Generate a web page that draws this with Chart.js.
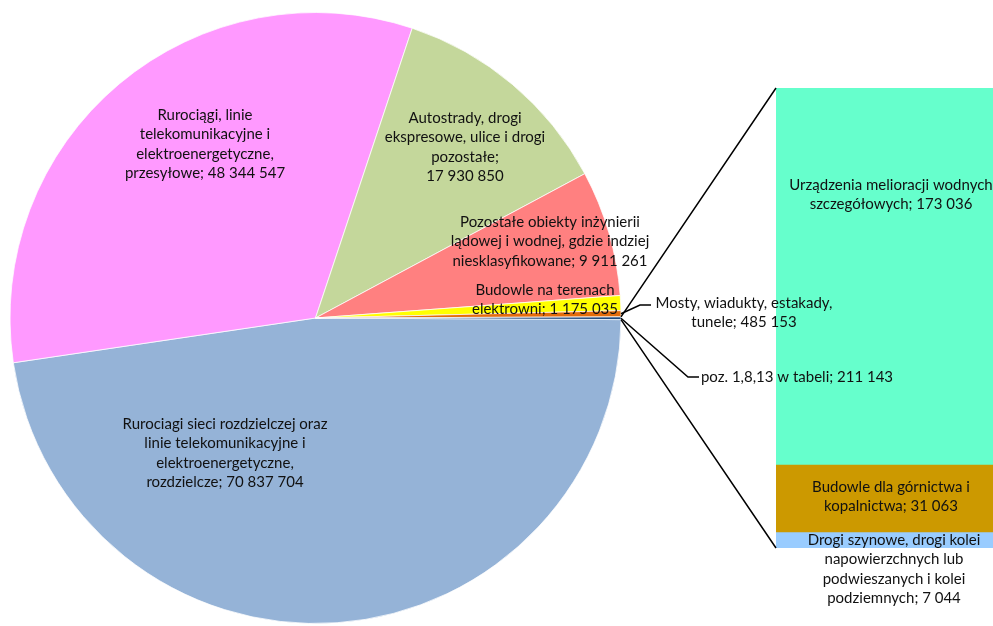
<!DOCTYPE html>
<html lang="pl">
<head>
<meta charset="UTF-8">
<title>Budowle - wykres kołowy z wykresem słupkowym</title>
<script src="https://cdn.jsdelivr.net/npm/chart.js"></script>
<style>
  body { margin: 0; background: #fff; }
  .wrap { position: relative; width: 993px; height: 626px; }
  .wrap canvas { position: absolute; left: 0; top: 0; }
</style>
</head>
<body>
<div class="wrap">
  <canvas id="pieChart" width="993" height="626"></canvas>
  <canvas id="barChart" width="993" height="626"></canvas>
</div>
<script>
// pie slices, clockwise from 3 o'clock (last one = sum of the bar)
const pieLabels = [
  'Rurociagi sieci rozdzielczej oraz\nlinie telekomunikacyjne i\nelektroenergetyczne,\nrozdzielcze',
  'Rurociągi, linie\ntelekomunikacyjne i\nelektroenergetyczne,\nprzesyłowe',
  'Autostrady, drogi\nekspresowe, ulice i drogi\npozostałe',
  'Pozostałe obiekty inżynierii\nlądowej i wodnej, gdzie indziej\nniesklasyfikowane',
  'Budowle na terenach\nelektrowni',
  'Mosty, wiadukty, estakady,\ntunele',
  'poz. 1,8,13 w tabeli'
];
const pieValues = [70837704, 48344547, 17930850, 9911261, 1175035, 485153];

// secondary bar, bottom to top
const barLabels = [
  'Drogi szynowe, drogi kolei\nnapowierzchnych lub\npodwieszanych i kolei\npodziemnych',
  'Budowle dla górnictwa i\nkopalnictwa',
  'Urządzenia melioracji wodnych\nszczegółowych'
];
const barValues = [7044, 31063, 173036];

const otherValue = barValues.reduce((a, b) => a + b, 0);
const pieData = pieValues.concat([otherValue]);

const pieColors = ['#95B3D7', '#FF99FF', '#C4D79B', '#FF8080', '#FFFF00', '#E46C0A', '#1F497D'];
const barColors = ['#99CCFF', '#CC9900', '#66FFCC'];

// label placement (centre of first line)
const pieLabelPos = [
  { x: 225, y: 424 },
  { x: 205, y: 115 },
  { x: 465, y: 118, valueBreak: true },
  { x: 550, y: 222 },
  { x: 545, y: 290 },
  { x: 744, y: 303, leader: [640, 305, 651] },
  { x: 797, y: 377, leader: [688, 377, 699] }
];
const barLabelPos = [
  { x: 894, y: 540 },
  { x: 891, y: 487 },
  { x: 891, y: 185 }
];

const FONT = '15px Lato, "Open Sans", sans-serif';
const LINE_H = 19.5;

function fmt(n) {
  return String(n).replace(/\B(?=(\d{3})+(?!\d))/g, ' ');
}

function drawLabel(ctx, text, value, pos) {
  const lines = (text + ';' + (pos.valueBreak ? '\n' : ' ') + fmt(value)).split('\n');
  ctx.save();
  ctx.font = FONT;
  ctx.fillStyle = '#111';
  ctx.textAlign = 'center';
  ctx.textBaseline = 'middle';
  lines.forEach((ln, i) => ctx.fillText(ln, pos.x, pos.y + i * LINE_H));
  ctx.restore();
}

function arcPoint(arc, angle) {
  return [arc.x + arc.outerRadius * Math.cos(angle), arc.y + arc.outerRadius * Math.sin(angle)];
}

const pieChart = new Chart(document.getElementById('pieChart').getContext('2d'), {
  type: 'pie',
  data: {
    labels: pieLabels,
    datasets: [{
      data: pieData,
      backgroundColor: pieColors,
      borderColor: '#fff',
      borderWidth: 0.75
    }]
  },
  options: {
    responsive: false,
    animation: false,
    rotation: 90.3,
    radius: 305.5,
    layout: { padding: { left: 9, top: 10, right: 371, bottom: 0 } },
    plugins: {
      legend: { display: false },
      tooltip: { enabled: false }
    }
  }
});

// drawn on the top canvas: connectors, leader lines and all labels
const connectorPlugin = {
  id: 'connectors',
  afterDraw(chart) {
    const ctx = chart.ctx;
    const arcs = pieChart.getDatasetMeta(0).data;
    const other = arcs[arcs.length - 1];
    const y = chart.scales.y;
    const left = chart.chartArea.left;

    ctx.save();
    ctx.strokeStyle = '#000';
    ctx.lineWidth = 1.5;

    const p1 = arcPoint(other, other.startAngle);
    const p2 = arcPoint(other, other.endAngle);
    ctx.beginPath();
    ctx.moveTo(p1[0], p1[1]);
    ctx.lineTo(left, y.getPixelForValue(otherValue));
    ctx.moveTo(p2[0], p2[1]);
    ctx.lineTo(left, y.getPixelForValue(0));
    ctx.stroke();

    pieLabelPos.forEach((pos, i) => {
      if (!pos.leader) return;
      const a = arcs[i];
      const p = arcPoint(a, (a.startAngle + a.endAngle) / 2);
      ctx.beginPath();
      ctx.moveTo(p[0], p[1]);
      ctx.lineTo(pos.leader[0], pos.leader[1]);
      ctx.lineTo(pos.leader[2], pos.leader[1]);
      ctx.stroke();
    });
    ctx.restore();

    pieLabels.forEach((t, i) => drawLabel(ctx, t, pieData[i], pieLabelPos[i]));
    barLabels.forEach((t, i) => drawLabel(ctx, t, barValues[i], barLabelPos[i]));
  }
};

const barChart = new Chart(document.getElementById('barChart').getContext('2d'), {
  type: 'bar',
  data: {
    labels: [''],
    datasets: barValues.map((v, i) => ({
      label: barLabels[i],
      data: [v],
      backgroundColor: barColors[i],
      barPercentage: 1,
      categoryPercentage: 1
    }))
  },
  options: {
    responsive: false,
    animation: false,
    layout: { padding: { left: 776, right: 0, top: 88, bottom: 78 } },
    scales: {
      x: { stacked: true, display: false },
      y: { stacked: true, display: false, min: 0, max: otherValue }
    },
    plugins: {
      legend: { display: false },
      tooltip: { enabled: false }
    }
  },
  plugins: [connectorPlugin]
});
</script>
</body>
</html>
